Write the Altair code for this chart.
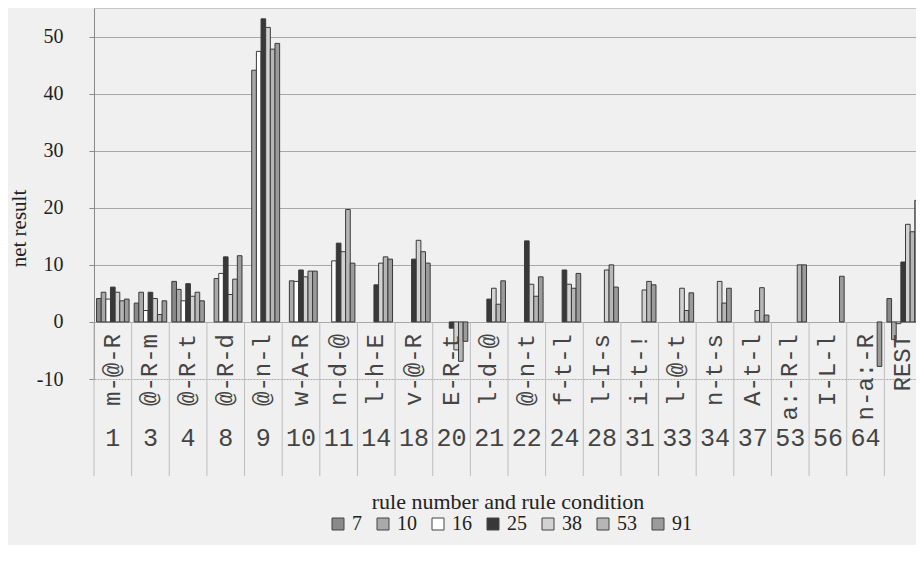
import altair as alt
import pandas as pd

N = None
groups = ["1", "3", "4", "8", "9", "10", "11", "14", "18", "20", "21",
          "22", "24", "28", "31", "33", "34", "37", "53", "56", "64", "REST"]
conditions = ["m-@-R", "@-R-m", "@-R-t", "@-R-d", "@-n-l", "w-A-R", "n-d-@",
              "l-h-E", "v-@-R", "E-R-t", "l-d-@", "@-n-t", "f-t-l", "l-I-s",
              "i-t-!", "l-@-t", "n-t-s", "A-t-l", "a:-R-l", "I-L-l", "n-a:-R", "REST"]
numbers = ["1", "3", "4", "8", "9", "10", "11", "14", "18", "20", "21",
           "22", "24", "28", "31", "33", "34", "37", "53", "56", "64", ""]
series = ["7", "10", "16", "25", "38", "53", "91"]

s7 = [4.1, 3.3, 7.1, N, N, N, N, N, N, N, N, N, N, N, N, N, N, N, N, N, N, 4.1]
s10 = [5.2, 5.2, 5.7, 7.6, 44.1, 7.2, N, N, N, N, N, N, N, N, N, N, N, N, N, N, N, -3.1]
s16 = [4.0, 2.0, 3.7, 8.5, 47.4, 7.1, 10.7, N, N, N, N, N, N, N, N, N, N, N, N, N, N, -0.3]
s25 = [6.1, 5.2, 6.7, 11.4, 53.1, 9.1, 13.8, 6.5, 11.0, -1.1, 4.0, 14.2, 9.1,
       N, N, N, N, N, N, N, N, 10.5]
s38 = [5.2, 4.1, 4.5, 4.8, 51.6, 7.9, 12.3, 10.3, 14.3, -4.9, 5.9, 6.6, 6.6,
       9.1, 5.6, 5.9, 7.1, 2.0, N, N, N, 17.1]
s53 = [3.7, 1.3, 5.2, 7.5, 47.8, 8.9, 19.7, 11.4, 12.3, -6.9, 3.1, 4.5, 5.9,
       10.0, 7.1, 2.0, 3.3, 6.0, 10.0, N, N, 15.8]
s91 = [4.0, 3.7, 3.7, 11.6, 48.8, 8.9, 10.3, 11.0, 10.3, -3.4, 7.2, 7.9, 8.5,
       6.1, 6.5, 5.1, 5.9, 1.2, 10.0, 8.0, -7.8, 21.3]

fills = ["#8a8a8a", "#a9a9a9", "#ffffff", "#383838", "#d2d2d2", "#b6b6b6", "#9b9b9b"]

rows = []
for s, vals in zip(series, [s7, s10, s16, s25, s38, s53, s91]):
    for g, v in zip(groups, vals):
        if v is not None:
            rows.append({"group": g, "series": s, "value": v})
bars_df = pd.DataFrame(rows)
cat_df = pd.DataFrame({"group": groups, "cond": conditions, "num": numbers})

xscale = alt.Scale(domain=groups, paddingInner=0, paddingOuter=0, range=[0, 828])
yscale = alt.Scale(domain=[-10, 55], nice=False, zero=False)

yaxis = alt.Axis(
    values=[-10, 0, 10, 20, 30, 40, 50], grid=True, gridColor="#a8a8a8", gridWidth=1,
    gridDash=alt.condition("datum.value == -10", alt.value([2, 1]), alt.value([])),
    domainColor="#8a8a8a", tickColor="#8a8a8a", tickSize=5,
    labelExpr="datum.value < 0 ? '-' + abs(datum.value) : '' + datum.value",
    labelFont="Liberation Serif", labelFontSize=20, labelColor="#222222", labelPadding=26,
    title="net result", titleFont="Liberation Serif", titleFontSize=21,
    titleFontWeight="normal", titleColor="#222222", titleX=-75, titleY=220,
    titleAngle=270, titleAlign="center", titleBaseline="middle",
)

bars = alt.Chart(bars_df).mark_bar(stroke="#3a3a3a", strokeWidth=1, opacity=1,
                                   clip=True).encode(
    x=alt.X("group:N", scale=xscale, axis=None),
    xOffset=alt.XOffset("series:N", sort=series,
                        scale=alt.Scale(domain=series, paddingOuter=0.55, paddingInner=0)),
    y=alt.Y("value:Q", scale=yscale, axis=yaxis),
    color=alt.Color("series:N", sort=series,
                    scale=alt.Scale(domain=series, range=fills),
                    legend=alt.Legend(orient="none", legendX=234, legendY=506,
                                      direction="horizontal", title=None,
                                      symbolType="square", symbolSize=144,
                                      symbolStrokeColor="#444444", symbolStrokeWidth=1,
                                      symbolOpacity=1,
                                      labelFont="Liberation Serif", labelFontSize=20,
                                      labelColor="#222222", labelOffset=4,
                                      columnPadding=11)),
)

seps = alt.Chart(cat_df).mark_rule(color="#bdbdbd", strokeWidth=1).encode(
    x=alt.X("group:N", scale=xscale, axis=None, bandPosition=0),
    y=alt.Y(datum=0, scale=yscale),
    y2=alt.value(468),
)

top = alt.Chart(pd.DataFrame({"v": [55]})).mark_rule(color="#9a9a9a").encode(
    y=alt.Y("v:Q", scale=yscale),
)

cond_text = alt.Chart(cat_df).mark_text(
    font="Liberation Mono", fontSize=24, angle=270, align="right",
    baseline="middle", color="#444444",
).encode(
    x=alt.X("group:N", scale=xscale, axis=None),
    y=alt.value(326),
    text="cond:N",
)

num_text = alt.Chart(cat_df).mark_text(
    font="Liberation Mono", fontSize=25, align="center", baseline="middle",
    color="#444444",
).encode(
    x=alt.X("group:N", scale=xscale, axis=None),
    y=alt.value(430),
    text="num:N",
)

xtitle = alt.Chart(pd.DataFrame({"t": ["rule number and rule condition"]})).mark_text(
    font="Liberation Serif", fontSize=22, align="center", baseline="middle",
    color="#222222",
).encode(x=alt.value(414), y=alt.value(494), text="t:N")

chart = alt.layer(seps, top, bars, cond_text, num_text, xtitle).properties(
    width=822, height=371,
    padding={"left": 86, "top": 0, "right": 0, "bottom": 166},
    autosize=alt.AutoSizeParams(type="none"),
    background="#f0f0f0",
).configure_view(stroke=None)

chart.save("out.html", embed_options={"renderer": "svg", "actions": False})
